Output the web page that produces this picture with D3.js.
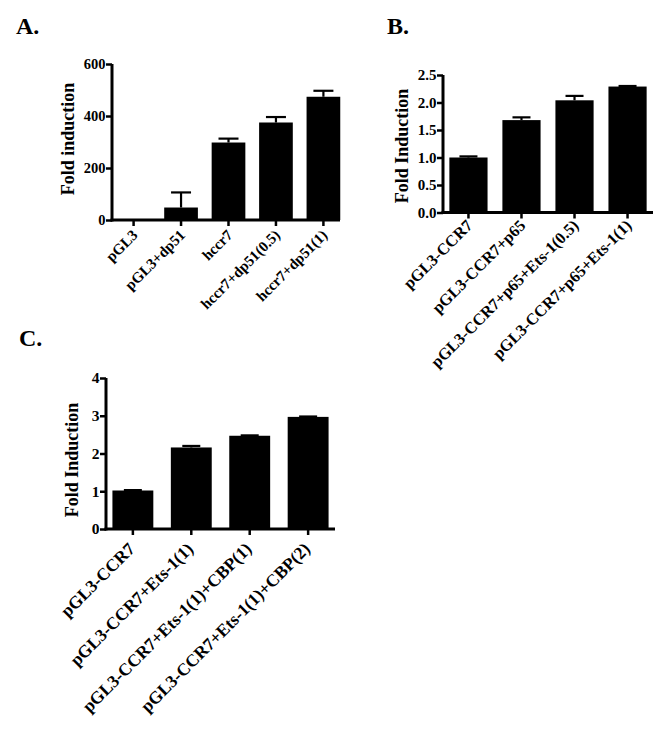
<!DOCTYPE html>
<html><head><meta charset="utf-8">
<script src="https://cdn.jsdelivr.net/npm/d3@7"></script>
<style>body{margin:0;background:#fff}svg{display:block}</style>
</head><body>
<svg id="c" width="670" height="730"></svg>
<script>
// Panel A
const catsA = ["pGL3","pGL3+dp51","hccr7","hccr7+dp51(0.5)","hccr7+dp51(1)"];
const valsA = [1, 48, 298, 375, 474];
const errA = [0, 58, 15, 21, 23];
const ticksA = [0, 200, 400, 600];
// Panel B
const catsB = ["pGL3-CCR7","pGL3-CCR7+p65","pGL3-CCR7+p65+Ets-1(0.5)","pGL3-CCR7+p65+Ets-1(1)"];
const valsB = [1.00, 1.68, 2.04, 2.29];
const errB = [0.02, 0.05, 0.08, 0.01];
const ticksB = [0, 0.5, 1.0, 1.5, 2.0, 2.5];
// Panel C
const catsC = ["pGL3-CCR7","pGL3-CCR7+Ets-1(1)","pGL3-CCR7+Ets-1(1)+CBP(1)","pGL3-CCR7+Ets-1(1)+CBP(2)"];
const valsC = [1.02, 2.16, 2.47, 2.97];
const errC = [0.01, 0.04, 0.01, 0.01];
const ticksC = [0, 1, 2, 3, 4];

const svg = d3.select("#c");
const FONT = "'Liberation Serif','Times New Roman',serif";

function panel(o) {
  const g = svg.append("g");
  const x = d3.scaleBand().domain(o.cats).range([o.x0, o.x1]).paddingInner(o.pad).paddingOuter(o.padOuter);
  const y = d3.scaleLinear().domain([0, o.max]).range([o.y0, o.y1]);
  g.selectAll("rect.bar").data(o.vals).enter().append("rect")
    .attr("x", (d,i) => x(o.cats[i]))
    .attr("width", x.bandwidth())
    .attr("y", d => y(d))
    .attr("height", d => y(0) - y(d))
    .attr("fill", "#000");
  const cw = o.cap;
  o.vals.forEach((v,i) => {
    if (o.errs[i] <= 0) return;
    const cx = x(o.cats[i]) + x.bandwidth()/2;
    g.append("line").attr("x1", cx).attr("x2", cx).attr("y1", y(v)).attr("y2", y(v+o.errs[i]))
      .attr("stroke","#000").attr("stroke-width",2.2);
    g.append("line").attr("x1", cx-cw/2).attr("x2", cx+cw/2).attr("y1", y(v+o.errs[i])).attr("y2", y(v+o.errs[i]))
      .attr("stroke","#000").attr("stroke-width",2.2);
  });
  const ya = g.append("g").attr("transform", `translate(${o.x0},0)`)
    .call(d3.axisLeft(y).tickValues(o.ticks).tickFormat(o.fmt).tickSize(6).tickSizeOuter(0));
  ya.select(".domain").attr("stroke-width", 3).attr("d", `M0,${o.y0+1.5}V${o.y1}`);
  ya.selectAll(".tick line").attr("stroke-width", 2.5);
  ya.selectAll(".tick text").attr("font-family", FONT).attr("font-weight","bold")
    .attr("font-size", o.tickFs).attr("fill","#000").attr("x",-6.5);
  const xa = g.append("g").attr("transform", `translate(0,${o.y0})`)
    .call(d3.axisBottom(x).tickSize(6).tickSizeOuter(0));
  xa.select(".domain").attr("stroke-width", 3).attr("d", `M${o.x0-1.5},0H${o.xEnd}`);
  xa.selectAll(".tick line").attr("stroke-width", 2.5);
  xa.selectAll(".tick text").attr("font-family", FONT).attr("font-weight","bold")
    .attr("font-size", o.labFs).attr("fill","#000")
    .attr("text-anchor","end").attr("dy", null).attr("y", 0)
    .attr("transform", `translate(${o.ldx},${o.ldy}) rotate(-45)`);
  g.append("text").attr("transform", `translate(${o.ylx},${o.yly}) rotate(-90)`)
    .attr("text-anchor","middle").attr("font-family",FONT).attr("font-weight","bold")
    .attr("font-size", o.ylFs).text(o.ylab);
  g.append("text").attr("x", o.lx).attr("y", o.ly).attr("font-family",FONT).attr("font-weight","bold")
    .attr("font-size", 24).text(o.letter);
}

panel({cats:catsA, vals:valsA, errs:errA, ticks:ticksA, max:600, fmt:d3.format("d"),
  x0:112, x1:345, xEnd:340, y0:220, y1:64, pad:0.29, padOuter:0.1, cap:20,
  tickFs:14.5, labFs:15, ldx:5, ldy:16, ylab:"Fold induction", ylx:74, yly:139, ylFs:18,
  letter:"A.", lx:16, ly:34});
panel({cats:catsB, vals:valsB, errs:errB, ticks:ticksB, max:2.5, fmt:d3.format(".1f"),
  x0:443, x1:653, xEnd:653, y0:212.5, y1:75, pad:0.28, padOuter:0.12, cap:18,
  tickFs:15, labFs:16.3, ldx:5, ldy:14, ylab:"Fold Induction", ylx:408, yly:146, ylFs:18,
  letter:"B.", lx:387, ly:34});
panel({cats:catsC, vals:valsC, errs:errC, ticks:ticksC, max:4, fmt:d3.format("d"),
  x0:106, x1:335, xEnd:335, y0:529, y1:378, pad:0.3, padOuter:0.11, cap:18,
  tickFs:15.5, labFs:17.5, ldx:3, ldy:21, ylab:"Fold Induction", ylx:78, yly:460, ylFs:18,
  letter:"C.", lx:19, ly:346});
</script>
</body></html>
